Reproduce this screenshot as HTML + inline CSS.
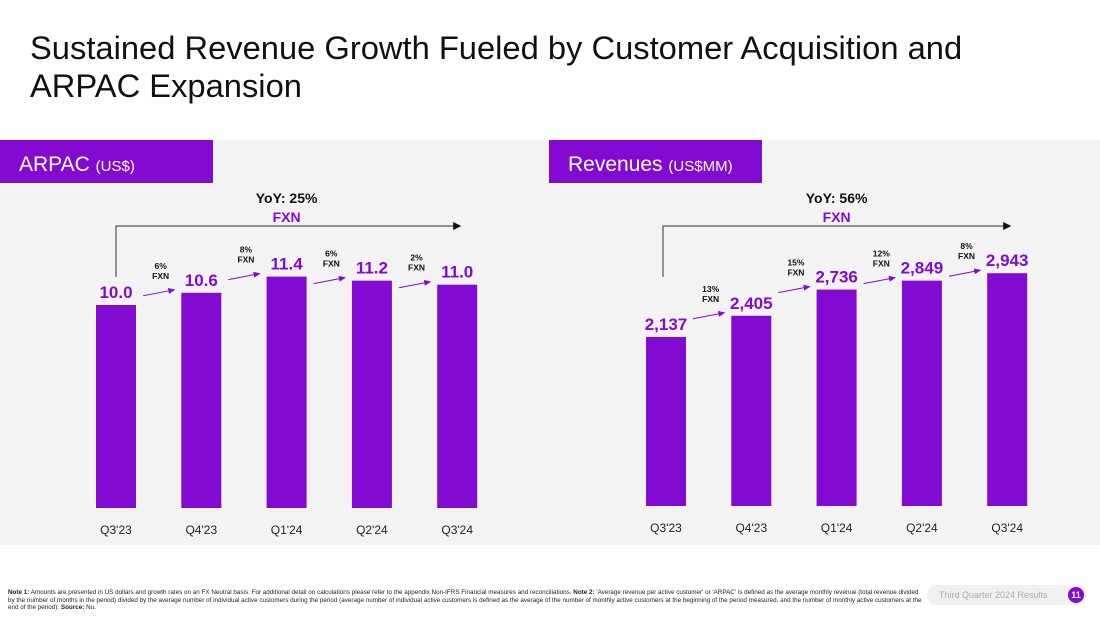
<!DOCTYPE html>
<html><head><meta charset="utf-8"><style>
body{margin:0;width:1100px;height:619px;overflow:hidden;background:#fff;font-family:"Liberation Sans",sans-serif;}
.title{position:absolute;left:30px;top:29px;font-size:32.7px;line-height:38px;color:#111;}
svg{position:absolute;left:0;top:0}
.note{position:absolute;left:8px;top:589px;width:915px;font-size:6.3px;line-height:7.5px;color:#222;}
.badge{position:absolute;left:927px;top:585px;width:160px;height:20px;background:#f0f0f0;border-radius:10px;}
.badge span{position:absolute;left:12px;top:5px;font-size:9px;color:#aaa;}
.badge i{position:absolute;right:3px;top:2px;width:16px;height:16px;border-radius:8px;background:#820ad1;color:#fff;font-size:9px;font-style:normal;text-align:center;line-height:16px;font-weight:bold}
</style></head><body>
<div class="title">Sustained Revenue Growth Fueled by Customer Acquisition and<br>ARPAC Expansion</div>
<svg id="c" width="1100" height="619"></svg>
<div class="note"><b>Note 1:</b> Amounts are presented in US dollars and growth rates on an FX Neutral basis. For additional detail on calculations please refer to the appendix Non-IFRS Financial measures and reconciliations. <b>Note 2:</b> 'Average revenue per active customer' or 'ARPAC' is defined as the average monthly revenue (total revenue divided by the number of months in the period) divided by the average number of individual active customers during the period (average number of individual active customers is defined as the average of the number of monthly active customers at the beginning of the period measured, and the number of monthly active customers at the end of the period). <b>Source:</b> Nu.</div>
<div class="badge"><span>Third Quarter 2024 Results</span><i>11</i></div>
<script>
const categories=["Q3'23","Q4'23","Q1'24","Q2'24","Q3'24"];
const arpacValues=[10.0,10.6,11.4,11.2,11.0];
const arpacLabels=["10.0","10.6","11.4","11.2","11.0"];
const arpacGrowth=["6%","8%","6%","2%"];
const revValues=[2137,2405,2736,2849,2943];
const revLabels=["2,137","2,405","2,736","2,849","2,943"];
const revGrowth=["13%","15%","12%","8%"];
const NS="http://www.w3.org/2000/svg";
const svg=document.getElementById('c');
function mk(t,a,p){const e=document.createElementNS(NS,t);for(const k in a)e.setAttribute(k,a[k]);(p||svg).appendChild(e);return e;}
function txt(x,y,s,size,fill,w,name){const t=mk('text',{x:x,y:y,'font-size':size,fill:fill,'font-weight':w,'text-anchor':'middle','font-family':'Liberation Sans, sans-serif'});t.textContent=s;return t;}
const P='#820ad1';
const bg=mk('rect',{x:0,y:140,width:1100,height:405,fill:'#f3f3f3'});

mk('defs',{}).innerHTML='<marker id="ak" markerWidth="8" markerHeight="8" refX="7" refY="4" orient="auto" markerUnits="userSpaceOnUse"><path d="M0,0L8,4L0,8z" fill="#111"/></marker><marker id="ap" markerWidth="7" markerHeight="6" refX="6" refY="3" orient="auto" markerUnits="userSpaceOnUse"><path d="M0,0L7,3L0,6z" fill="#820ad1"/></marker>';
function chart(o){
  const g=mk('g',{});
  const h=mk('rect',{x:o.hx,y:140,width:213,height:43,fill:P},g);
  
  const ht=mk('text',{x:o.hx+19,y:171,'font-size':21,fill:'#fff','font-family':'Liberation Sans, sans-serif'},g);
  ht.innerHTML=o.title+' <tspan font-size="15">'+o.unit+'</tspan>';
  
  const y=v=>o.base-v*o.scale;
  const x=i=>o.x0+i*o.step;
  const tops=o.vals.map(v=>y(v));
  o.vals.forEach((v,i)=>{
    const r=mk('rect',{x:x(i)-20,y:y(v),width:40,height:o.base-y(v),fill:P},g);
    
    g.appendChild(txt(x(i),y(v)-7,o.labels[i],17,P,'bold','value-label'));
    g.appendChild(txt(x(i),o.base+26,categories[i],12,'#222','normal','x-label'));
  });
  o.growth.forEach((s,i)=>{
    const ey=tops[i+1]-3, x1=x(i)+27, x2=x(i+1)-27;
    const a=mk('line',{x1:x1,y1:ey+6,x2:x2,y2:ey,stroke:P,'stroke-width':1,'marker-end':'url(#ap)'},g);
    
    const mx=(x1+x2)/2+2;
    g.appendChild(txt(mx,ey-21,s,8.5,'#111','bold','growth-pct'));
    g.appendChild(txt(mx,ey-11,'FXN',8.5,'#111','bold','growth-fxn'));
  });
  const lx=x(0)-(o.shift||0);
  const c=mk('path',{d:`M${lx},${o.lineBot}V226H${x(4)+3}`,fill:'none',stroke:'#333','stroke-width':1,'marker-end':'url(#ak)'},g);
  
  const cx=(x(0)+x(4))/2;
  g.appendChild(txt(cx,203,o.yoy,14,'#111','bold','yoy-label'));
  g.appendChild(txt(cx,222,'FXN',14,P,'bold','yoy-fxn'));
}
chart({name:'arpac-chart',hx:0,title:'ARPAC',unit:'(US$)',vals:arpacValues,labels:arpacLabels,growth:arpacGrowth,base:508,scale:20.3,x0:116,step:85.3,yoy:'YoY: 25%',lineBot:277});
chart({name:'revenue-chart',hx:549,title:'Revenues',unit:'(US$MM)',vals:revValues,labels:revLabels,growth:revGrowth,base:506,scale:0.0791,x0:666,step:85.3,yoy:'YoY: 56%',lineBot:277,shift:3});
</script>
</body></html>
